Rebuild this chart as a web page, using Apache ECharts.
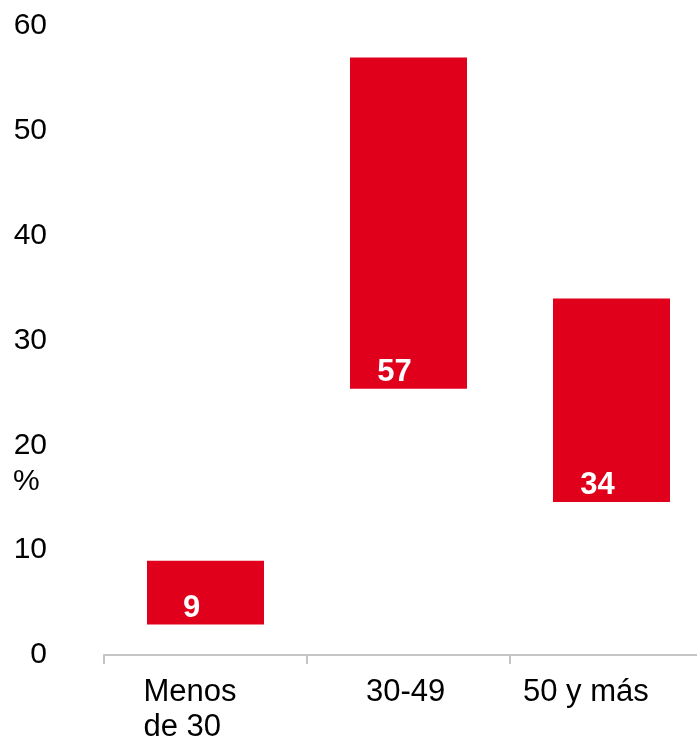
<!DOCTYPE html>
<html>
<head>
<meta charset="utf-8">
<script src="https://cdn.jsdelivr.net/npm/echarts@6/dist/echarts.min.js"></script>
<style>
  html, body { margin: 0; padding: 0; background: #ffffff; overflow: hidden; width: 697px; height: 743px; }
  /* the plot area extends a little past the visible right edge */
  #chart { width: 713px; height: 743px; }
</style>
</head>
<body>
<div id="chart"></div>
<script>
// Age groups and their shares (%)
const categories = ['Menos\nde 30', '30-49', '50 y más'];
const values = [9, 57, 34];
// Lower edge of each floating bar (%)
const bases = [2.9, 25.4, 14.6];
const yTicks = [0, 10, 20, 30, 40, 50, 60];

const FONT = '"Liberation Sans", Arial, sans-serif';
const RED = '#e0001b';

const chart = echarts.init(document.getElementById('chart'), null, { renderer: 'canvas' });

// rich-text widths keep each wrapped label block left aligned
const labelWidths = [124, 85, 177];
const catStyle = function (w) {
  return { width: w, align: 'left', fontSize: 31, lineHeight: 35, fontFamily: FONT, color: '#000' };
};

chart.setOption({
  animation: false,
  backgroundColor: '#ffffff',
  grid: { left: 104, right: 0, top: 26, bottom: 87, containLabel: false },
  xAxis: {
    type: 'category',
    data: categories,
    boundaryGap: true,
    axisLine: { show: true, lineStyle: { color: '#c4c4c4', width: 2 } },
    axisTick: { show: true, length: 9, lineStyle: { color: '#c4c4c4', width: 2 } },
    axisLabel: {
      margin: 20,
      interval: 0,
      formatter: function (v) {
        const k = categories.indexOf(v);
        return v.split('\n').map(function (line) {
          return '{w' + k + '|' + line + '}';
        }).join('\n');
      },
      rich: {
        w0: catStyle(labelWidths[0]),
        w1: catStyle(labelWidths[1]),
        w2: catStyle(labelWidths[2])
      }
    }
  },
  yAxis: {
    type: 'value',
    min: yTicks[0],
    max: yTicks[yTicks.length - 1],
    interval: 10,
    axisLine: { show: false },
    axisTick: { show: false },
    splitLine: { show: false },
    axisLabel: {
      margin: 57,
      fontSize: 30,
      fontFamily: FONT,
      color: '#000'
    }
  },
  graphic: [
    {
      type: 'text',
      left: 13,
      top: 467,
      style: { text: '%', font: '30px ' + FONT, fill: '#000' }
    }
  ],
  series: [
    {
      name: 'base',
      type: 'bar',
      stack: 'range',
      barWidth: 117,
      silent: true,
      itemStyle: { color: 'rgba(0,0,0,0)' },
      data: bases
    },
    {
      name: 'share',
      type: 'bar',
      stack: 'range',
      barWidth: 117,
      itemStyle: { color: RED },
      data: values.map(function (v, i) { return v - bases[i]; }),
      label: {
        show: true,
        position: 'insideBottom',
        distance: 1,
        offset: [-14, 0],
        fontSize: 31,
        fontWeight: 'bold',
        fontFamily: FONT,
        color: '#ffffff',
        formatter: function (p) { return String(values[p.dataIndex]); }
      }
    }
  ]
});
</script>
</body>
</html>
